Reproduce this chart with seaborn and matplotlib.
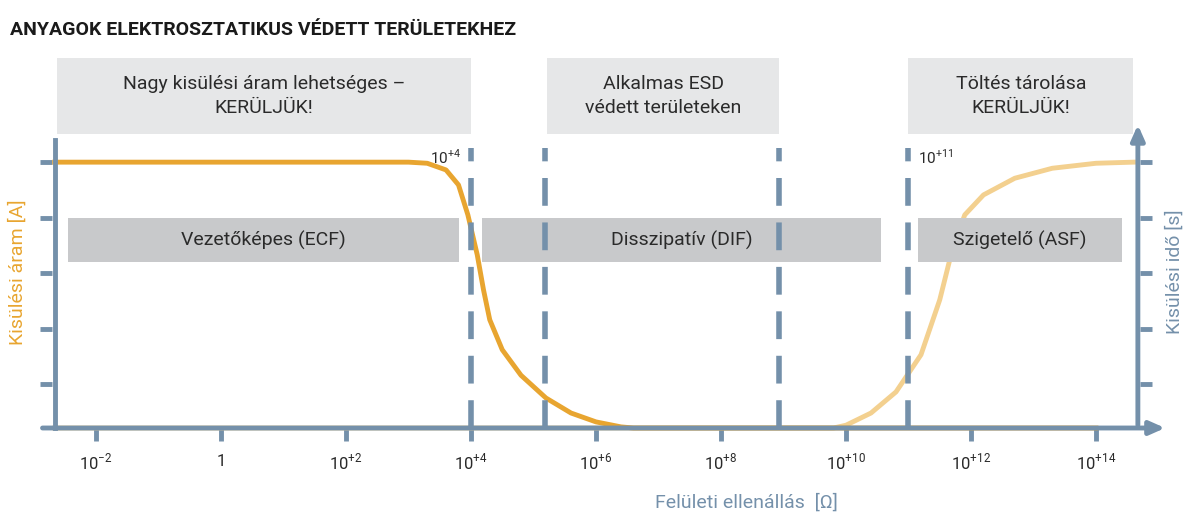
import numpy as np
import pandas as pd
import matplotlib
matplotlib.use("Agg")
import matplotlib.pyplot as plt
import seaborn as sns

# ---- data (x in decades log10(Ω), y in arbitrary units) ----
tick_pos = [-2, 0, 2, 4, 6, 8, 10, 12, 14]
tick_labels = ["10$^{-2}$", "1", "10$^{+2}$", "10$^{+4}$", "10$^{+6}$", "10$^{+8}$",
               "10$^{+10}$", "10$^{+12}$", "10$^{+14}$"]
current_x = [-2.66, 0, 2, 3.0, 3.3, 3.6, 3.8, 3.95, 4.1, 4.2, 4.3, 4.5, 4.8, 5.2, 5.6, 6.0, 6.4, 6.6, 14.0]
current_y = [4.79, 4.79, 4.79, 4.79, 4.77, 4.65, 4.38, 3.84, 3.12, 2.49, 1.95, 1.41, 0.95, 0.54, 0.27, 0.11, 0.02, 0.0, 0.0]
time_x = [-2.66, 9.8, 10.0, 10.4, 10.8, 11.2, 11.5, 11.7, 11.9, 12.2, 12.7, 13.3, 14.0, 14.6]
time_y = [0.0, 0.0, 0.05, 0.27, 0.65, 1.32, 2.31, 3.21, 3.84, 4.2, 4.5, 4.68, 4.77, 4.79]
boundaries = [4.0, 5.18, 8.93, 11.0]
y_ticks = [0.79, 1.78, 2.79, 3.78, 4.79]
top_boxes = [(-2.62, 4.0, "Nagy kisülési áram lehetséges –\nKERÜLJÜK!"),
             (5.22, 8.93, "Alkalmas ESD\nvédett területeken"),
             (11.0, 14.6, "Töltés tárolása\nKERÜLJÜK!")]
mid_boxes = [(-2.45, 3.81, "Vezetőképes (ECF)"),
             (4.18, 10.56, "Disszipatív (DIF)"),
             (11.16, 14.41, "Szigetelő (ASF)")]

ORANGE = "#E8A530"; LIGHT = "#F3D08F"; AX = "#7490AA"
BOX1 = "#E6E7E8"; BOX2 = "#C8C9CB"; TXT = "#2a2a2a"
plt.rcParams["font.family"] = "Roboto"
plt.rcParams["mathtext.fontset"] = "custom"
plt.rcParams["mathtext.rm"] = "Roboto"

fig = plt.figure(figsize=(12, 5.29), dpi=100)
ax = fig.add_axes([0, 0, 1, 1])
ax.set_xlim(-2 - 96/62.5, -2 + (1200-96)/62.5)
ax.set_ylim(-101/55.5, 428/55.5)
ax.axis("off")

def py(p):  # pixel row -> data y
    return (428 - p)/55.5

# boxes
for x0, x1, t in top_boxes:
    ax.add_patch(plt.Rectangle((x0, py(134)), x1-x0, py(58)-py(134), color=BOX1, lw=0, zorder=1))
    ax.text((x0+x1)/2, py(96), t, ha="center", va="center", fontsize=14, color=TXT, linespacing=1.4)
for x0, x1, t in mid_boxes:
    ax.add_patch(plt.Rectangle((x0, py(262)), x1-x0, py(218)-py(262), color=BOX2, lw=0, zorder=5))
    ax.text((x0+x1)/2, py(240), t, ha="center", va="center", fontsize=14, color=TXT, zorder=6)

# dashed boundaries
ax.vlines(boundaries, 0, py(148), colors=AX, lw=4, linestyles=(0, (5, 3)), zorder=7)

# curves
sns.lineplot(x=time_x, y=time_y, color=LIGHT, lw=3.5, sort=False, ax=ax, zorder=3)
sns.lineplot(x=current_x, y=current_y, color=ORANGE, lw=3.5, sort=False, ax=ax, zorder=4)

# axes
ax.plot([-2.66, -2.66], [0, py(140)], color=AX, lw=3.5, zorder=8)
ax.annotate("", xy=(15.15, 0), xytext=(-2.9, 0),
            arrowprops=dict(arrowstyle="-|>,head_length=0.9,head_width=0.4", color=AX, lw=3.5), zorder=8)
ax.annotate("", xy=(14.67, py(122)), xytext=(14.67, 0),
            arrowprops=dict(arrowstyle="-|>,head_length=0.9,head_width=0.4", color=AX, lw=3.5), zorder=8)
ax.hlines(y_ticks, -2.9, -2.7, colors=AX, lw=3.5)
ax.hlines(y_ticks, 14.7, 14.9, colors=AX, lw=3.5)
ax.vlines(tick_pos, py(441), 0, colors=AX, lw=3.5)
for p, l in zip(tick_pos, tick_labels):
    ax.text(p, py(462), l, ha="center", va="center", fontsize=12, color=TXT)

ax.text(3.35, py(157), "10$^{+4}$", ha="left", va="center", fontsize=11, color=TXT)
ax.text(11.15, py(157), "10$^{+11}$", ha="left", va="center", fontsize=11, color=TXT)

ax.text(-3.26, py(272), "Kisülési áram [A]", rotation=90, ha="center", va="center",
        fontsize=14, color=ORANGE)
ax.text(15.25, py(272), "Kisülési idő [s]", rotation=90, ha="center", va="center",
        fontsize=14, color=AX)
ax.text(8.4, py(503), "Felületi ellenállás  [Ω]", ha="center", va="center", fontsize=14, color=AX)
fig.text(10/1200, 1-30/529, "ANYAGOK ELEKTROSZTATIKUS VÉDETT TERÜLETEKHEZ", ha="left", va="center",
         fontsize=14, fontweight="bold", color="#1a1a1a")

fig.savefig("out.png", dpi=100)
